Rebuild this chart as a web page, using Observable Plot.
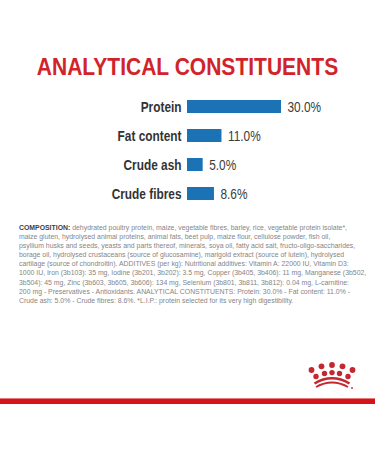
<!DOCTYPE html>
<html>
<head>
<meta charset="utf-8">
<script src="https://cdn.jsdelivr.net/npm/d3@7"></script>
<script src="https://cdn.jsdelivr.net/npm/@observablehq/plot@0.6"></script>
<style>
  html, body { margin: 0; padding: 0; background: #fff; }
  body { width: 375px; height: 450px; position: relative; overflow: hidden; font-family: "Liberation Sans", sans-serif; }
  #title { position: absolute; left: 0; top: 55px; width: 375px; text-align: center; font-size: 24px; line-height: 24px; font-weight: bold; color: #d2232a; transform: scaleX(0.876); transform-origin: 187.5px 0; }
  #chart { position: absolute; left: 0; top: 92px; }
  #comp { position: absolute; left: 19px; top: 223px; font-size: 7.8px; line-height: 9.1px; color: #858585; white-space: nowrap; transform-origin: 0 0; }
  #comp b { color: #3e3e3e; font-weight: bold; }
  #crown { position: absolute; left: 306px; top: 362px; }
  #redline { position: absolute; left: 0; top: 398px; width: 375px; height: 5px; background: #d3141b; border-top: 1.5px solid #e87a7a; }
</style>
</head>
<body>
<div id="title">ANALYTICAL CONSTITUENTS</div>
<div id="chart"></div>
<div id="comp"></div>
<svg id="crown" width="52" height="32" viewBox="0 0 52 32">
  <g fill="#c4272e">
    <circle cx="5.5" cy="8" r="2.9"/>
    <circle cx="15.5" cy="4.3" r="2.9"/>
    <circle cx="26" cy="3" r="2.9"/>
    <circle cx="36.5" cy="4.3" r="2.9"/>
    <circle cx="46.5" cy="8" r="2.9"/>
    <circle cx="10" cy="14.5" r="2.7"/>
    <circle cx="18.5" cy="11.5" r="2.7"/>
    <circle cx="26" cy="10.6" r="2.7"/>
    <circle cx="33.5" cy="11.5" r="2.7"/>
    <circle cx="42" cy="14.5" r="2.7"/>
  </g>
  <g fill="none" stroke="#c4272e">
    <path d="M8.5 21.5 Q26 11 43.5 21.5" stroke-width="2.6"/>
    <path d="M10 25 Q26 16 42 25" stroke-width="1.8"/>
  </g>
  <circle cx="46" cy="26" r="0.9" fill="#c4272e"/>
</svg>
<div id="redline"></div>
<script>
const categories = ["Protein", "Fat content", "Crude ash", "Crude fibres"];
const values = [30.0, 11.0, 5.0, 8.6];
const valueLabels = ["30.0%", "11.0%", "5.0%", "8.6%"];

const compositionLines = [
  "dehydrated poultry protein, maize, vegetable fibres, barley, rice, vegetable protein isolate*,",
  "maize gluten, hydrolysed animal proteins, animal fats, beet pulp, maize flour, cellulose powder, fish oil,",
  "psyllium husks and seeds, yeasts and parts thereof, minerals, soya oil, fatty acid salt, fructo-oligo-saccharides,",
  "borage oil, hydrolysed crustaceans (source of glucosamine), marigold extract (source of lutein), hydrolysed",
  "cartilage (source of chondroitin). ADDITIVES (per kg): Nutritional additives: Vitamin A: 22000 IU, Vitamin D3:",
  "1000 IU, Iron (3b103): 35 mg, Iodine (3b201, 3b202): 3.5 mg, Copper (3b405, 3b406): 11 mg, Manganese (3b502,",
  "3b504): 45 mg, Zinc (3b603, 3b605, 3b606): 134 mg, Selenium (3b801, 3b811, 3b812): 0.04 mg, L-carnitine:",
  "200 mg - Preservatives - Antioxidants. ANALYTICAL CONSTITUENTS: Protein: 30.0% - Fat content: 11.0% -",
  "Crude ash: 5.0% - Crude fibres: 8.6%. *L.I.P.: protein selected for its very high digestibility."
];

const data = categories.map((name, i) => ({name, value: values[i], label: valueLabels[i]}));

const chart = Plot.plot({
  width: 375,
  height: 116,
  marginLeft: 187,
  marginRight: 94,
  marginTop: 0,
  marginBottom: 0,
  style: {fontFamily: "'Liberation Sans', sans-serif", fontSize: "15px", color: "#333", background: "transparent"},
  x: {domain: [0, 30], axis: null},
  y: {domain: categories, paddingInner: 0.55, paddingOuter: 0.275, label: null},
  marks: [
    Plot.barX(data, {x: "value", y: "name", fill: "#1b72b5"}),
    Plot.text(data, {x: "value", y: "name", text: "label", textAnchor: "start", dx: 6, fill: "#3a3a3a", fontSize: 15}),
    Plot.axisY({tickSize: 0, tickPadding: 6, fontWeight: "bold", fontSize: 15, label: null})
  ]
});
document.getElementById("chart").appendChild(chart);

// condense chart texts horizontally (narrow typeface look)
d3.select(chart).selectAll("text").each(function() {
  const w = this.getComputedTextLength();
  if (w > 0) {
    this.setAttribute("textLength", (w * 0.79).toFixed(1));
    this.setAttribute("lengthAdjust", "spacingAndGlyphs");
  }
});

const comp = document.getElementById("comp");
compositionLines.forEach((line, i) => {
  const div = document.createElement("div");
  if (i === 0) {
    const b = document.createElement("b");
    b.textContent = "COMPOSITION: ";
    div.appendChild(b);
    div.appendChild(document.createTextNode(line));
  } else {
    div.textContent = line;
  }
  comp.appendChild(div);
});
// fit the first line to the reference's text width
comp.firstChild.style.display = "inline-block";
const w1 = comp.firstChild.getBoundingClientRect().width;
comp.firstChild.style.display = "";
comp.style.transform = `scaleX(${(328 / w1).toFixed(4)})`;
</script>
</body>
</html>
